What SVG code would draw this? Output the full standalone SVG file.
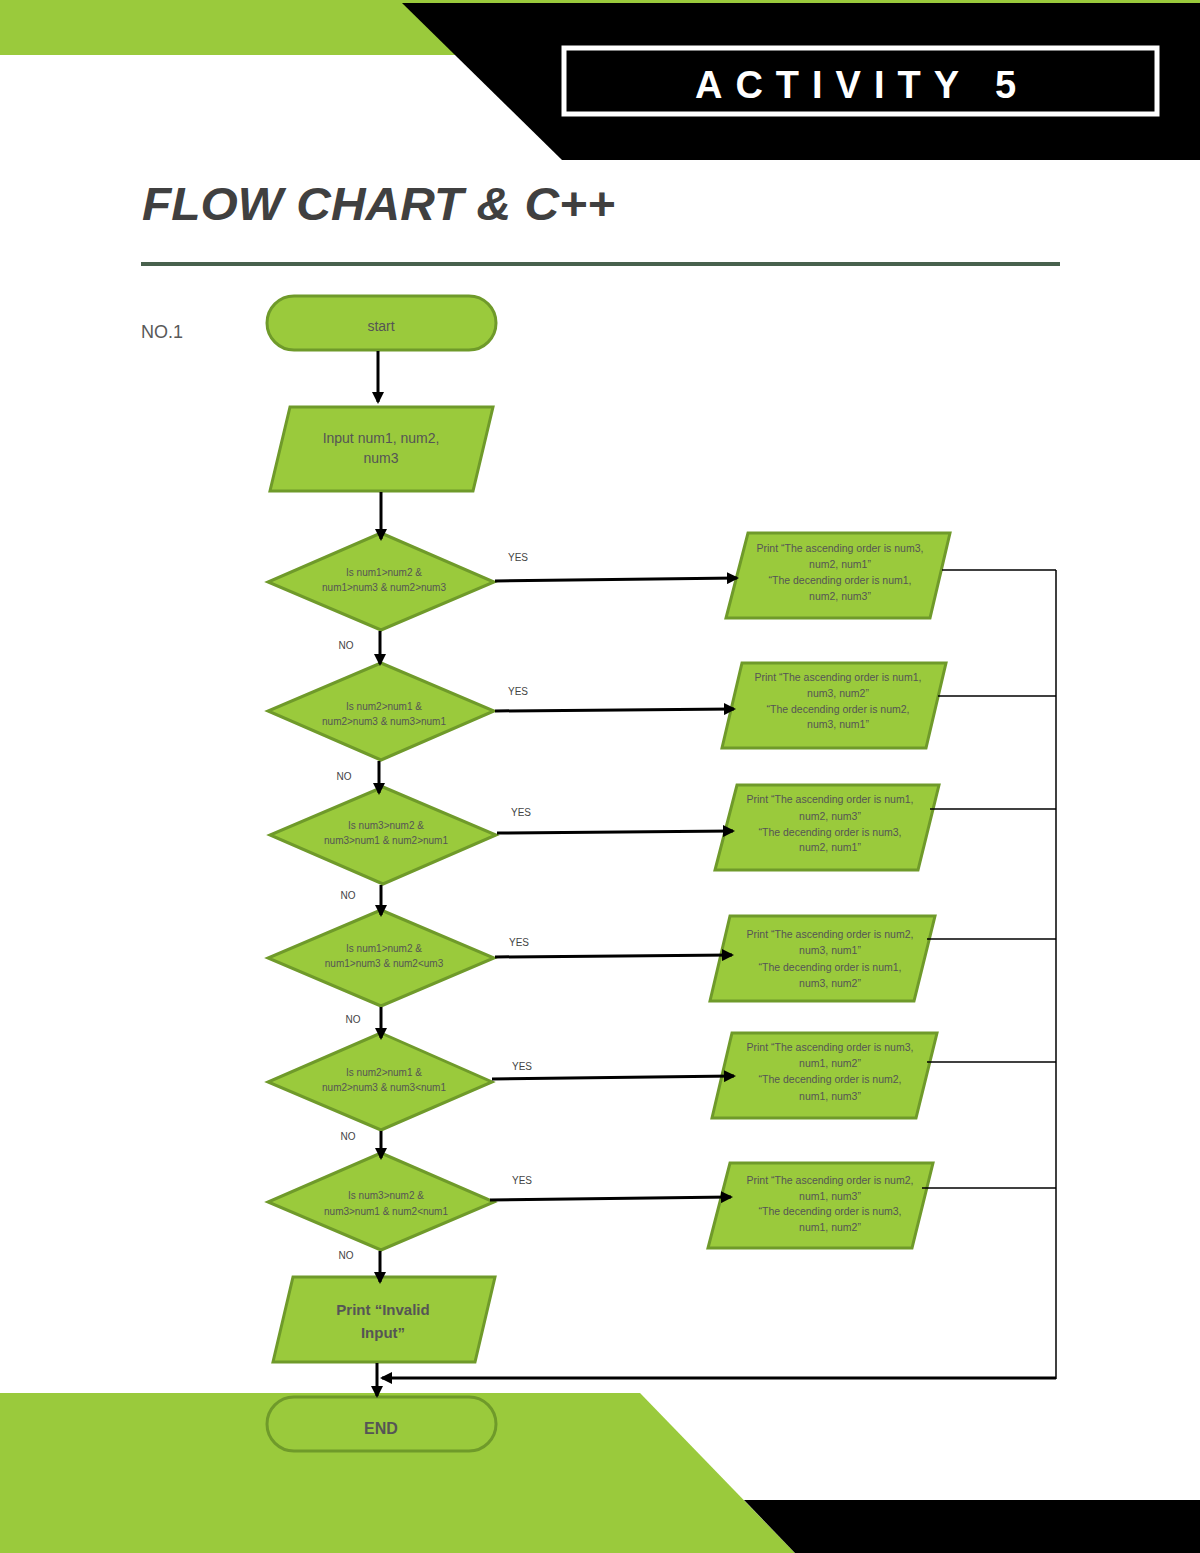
<svg xmlns="http://www.w3.org/2000/svg" width="1200" height="1553" viewBox="0 0 1200 1553">
<style>
.shape{fill:#9aca3c;stroke:#6f9a2a;stroke-width:3}
.t{font-family:"Liberation Sans",Arial,sans-serif;fill:#555555;text-anchor:middle}
.s{font-size:10.5px}
.d{font-size:10px}
.lbl{font-family:"Liberation Sans",Arial,sans-serif;font-size:10px;fill:#444444;text-anchor:middle}
.c{stroke:#000;stroke-width:3;fill:none}
.thin{stroke:#000;stroke-width:1.5;fill:none}
</style>
<defs>
<marker id="ah" markerWidth="12" markerHeight="12" refX="10" refY="6" orient="auto" markerUnits="userSpaceOnUse">
<path d="M0,0 L12,6 L0,12 Z" fill="#000"/>
</marker>
</defs>
<rect width="1200" height="1553" fill="#ffffff"/>
<g id="background">
<rect x="0" y="0" width="1200" height="55" fill="#9aca3c"/>
<polygon points="402,3 1200,3 1200,160 562,160" fill="#000"/>
<polygon points="0,1393 640,1393 795,1553 0,1553" fill="#9aca3c"/>
<polygon points="744,1500 1200,1500 1200,1553 795,1553" fill="#000"/>
<rect x="564" y="48" width="593" height="66" fill="#000" stroke="#fff" stroke-width="5"/>
<text x="862" y="98" font-family="Liberation Sans,Arial,sans-serif" font-size="38" font-weight="bold" fill="#fff" text-anchor="middle" letter-spacing="13">ACTIVITY 5</text>
<text x="142" y="220" font-family="Liberation Sans,Arial,sans-serif" font-size="47" font-weight="bold" font-style="italic" fill="#404040" textLength="473" lengthAdjust="spacingAndGlyphs">FLOW CHART &amp; C++</text>
<line x1="141" y1="264" x2="1060" y2="264" stroke="#48614d" stroke-width="4"/>
<text x="141" y="338" font-family="Liberation Sans,Arial,sans-serif" font-size="18" fill="#595959">NO.1</text>
</g>
<g id="start">
<rect class="shape" x="267" y="296" width="229" height="54" rx="27"/>
<text class="t" x="381" y="331" font-size="14">start</text>
</g>
<g id="input">
<polygon class="shape" points="290,407 493,407 473,491 270,491"/>
<text class="t" x="381" y="443" font-size="14">Input num1, num2,</text>
<text class="t" x="381" y="463" font-size="14">num3</text>
</g>
<g id="d1">
<polygon class="shape" points="381,533 494,582 381,630 268,582"/>
<text class="t d" x="384" y="576">Is num1&gt;num2 &amp;</text>
<text class="t d" x="384" y="591">num1&gt;num3 &amp; num2&gt;num3</text>
</g>
<g id="d2">
<polygon class="shape" points="381,663 494,711 381,760 268,711"/>
<text class="t d" x="384" y="710">Is num2&gt;num1 &amp;</text>
<text class="t d" x="384" y="725">num2&gt;num3 &amp; num3&gt;num1</text>
</g>
<g id="d3">
<polygon class="shape" points="383,787 496,835 383,884 270,835"/>
<text class="t d" x="386" y="829">Is num3&gt;num2 &amp;</text>
<text class="t d" x="386" y="844">num3&gt;num1 &amp; num2&gt;num1</text>
</g>
<g id="d4">
<polygon class="shape" points="381,910 494,958 381,1006 268,958"/>
<text class="t d" x="384" y="952">Is num1&gt;num2 &amp;</text>
<text class="t d" x="384" y="967">num1&gt;num3 &amp; num2&lt;um3</text>
</g>
<g id="d5">
<polygon class="shape" points="381,1033 492,1082 381,1130 268,1082"/>
<text class="t d" x="384" y="1076">Is num2&gt;num1 &amp;</text>
<text class="t d" x="384" y="1091">num2&gt;num3 &amp; num3&lt;num1</text>
</g>
<g id="d6">
<polygon class="shape" points="381,1153 494,1202 381,1250 268,1202"/>
<text class="t d" x="386" y="1199">Is num3&gt;num2 &amp;</text>
<text class="t d" x="386" y="1215">num3&gt;num1 &amp; num2&lt;num1</text>
</g>
<g id="p1">
<polygon class="shape" points="748,533 950,533 930,618 726,618"/>
<text class="t s" x="840" y="552">Print “The ascending order is num3,</text>
<text class="t s" x="840" y="568">num2, num1”</text>
<text class="t s" x="840" y="584">“The decending order is num1,</text>
<text class="t s" x="840" y="600">num2, num3”</text>
</g>
<g id="p2">
<polygon class="shape" points="742,663 946,663 926,748 722,748"/>
<text class="t s" x="838" y="681">Print “The ascending order is num1,</text>
<text class="t s" x="838" y="697">num3, num2”</text>
<text class="t s" x="838" y="713">“The decending order is num2,</text>
<text class="t s" x="838" y="728">num3, num1”</text>
</g>
<g id="p3">
<polygon class="shape" points="737,785 939,785 918,870 715,870"/>
<text class="t s" x="830" y="803">Print “The ascending order is num1,</text>
<text class="t s" x="830" y="820">num2, num3”</text>
<text class="t s" x="830" y="836">“The decending order is num3,</text>
<text class="t s" x="830" y="851">num2, num1”</text>
</g>
<g id="p4">
<polygon class="shape" points="730,916 935,916 914,1001 710,1001"/>
<text class="t s" x="830" y="938">Print “The ascending order is num2,</text>
<text class="t s" x="830" y="954">num3, num1”</text>
<text class="t s" x="830" y="971">“The decending order is num1,</text>
<text class="t s" x="830" y="987">num3, num2”</text>
</g>
<g id="p5">
<polygon class="shape" points="732,1033 937,1033 916,1118 712,1118"/>
<text class="t s" x="830" y="1051">Print “The ascending order is num3,</text>
<text class="t s" x="830" y="1067">num1, num2”</text>
<text class="t s" x="830" y="1083">“The decending order is num2,</text>
<text class="t s" x="830" y="1100">num1, num3”</text>
</g>
<g id="p6">
<polygon class="shape" points="730,1163 933,1163 912,1248 708,1248"/>
<text class="t s" x="830" y="1184">Print “The ascending order is num2,</text>
<text class="t s" x="830" y="1200">num1, num3”</text>
<text class="t s" x="830" y="1215">“The decending order is num3,</text>
<text class="t s" x="830" y="1231">num1, num2”</text>
</g>
<g id="invalid">
<polygon class="shape" points="293,1277 495,1277 475,1362 273,1362"/>
<text class="t" x="383" y="1315" font-size="15" font-weight="bold">Print “Invalid</text>
<text class="t" x="383" y="1338" font-size="15" font-weight="bold">Input”</text>
</g>
<g id="end">
<rect class="shape" x="267" y="1397" width="229" height="54" rx="27"/>
<text class="t" x="381" y="1434" font-size="16" font-weight="bold">END</text>
</g>
<g id="connectors">
<line class="c" x1="378" y1="351" x2="378" y2="402" marker-end="url(#ah)"/>
<line class="c" x1="381" y1="492" x2="381" y2="539" marker-end="url(#ah)"/>
<line class="c" x1="380" y1="631" x2="380" y2="664" marker-end="url(#ah)"/>
<line class="c" x1="379" y1="761" x2="379" y2="793" marker-end="url(#ah)"/>
<line class="c" x1="381" y1="885" x2="381" y2="915" marker-end="url(#ah)"/>
<line class="c" x1="381" y1="1007" x2="381" y2="1038" marker-end="url(#ah)"/>
<line class="c" x1="381" y1="1131" x2="381" y2="1158" marker-end="url(#ah)"/>
<line class="c" x1="380" y1="1251" x2="380" y2="1282" marker-end="url(#ah)"/>
<line class="c" x1="377" y1="1363" x2="377" y2="1396" marker-end="url(#ah)"/>
<line class="c" x1="495" y1="581" x2="737" y2="578" marker-end="url(#ah)"/>
<line class="c" x1="495" y1="711" x2="734" y2="709" marker-end="url(#ah)"/>
<line class="c" x1="497" y1="833" x2="733" y2="831" marker-end="url(#ah)"/>
<line class="c" x1="495" y1="957" x2="732" y2="955" marker-end="url(#ah)"/>
<line class="c" x1="492" y1="1079" x2="734" y2="1076" marker-end="url(#ah)"/>
<line class="c" x1="490" y1="1200" x2="731" y2="1197" marker-end="url(#ah)"/>
<line class="thin" x1="942" y1="570" x2="1056" y2="570"/>
<line class="thin" x1="938" y1="696" x2="1056" y2="696"/>
<line class="thin" x1="930" y1="809" x2="1056" y2="809"/>
<line class="thin" x1="927" y1="939" x2="1056" y2="939"/>
<line class="thin" x1="927" y1="1062" x2="1056" y2="1062"/>
<line class="thin" x1="922" y1="1188" x2="1056" y2="1188"/>
<line class="thin" x1="1056" y1="570" x2="1056" y2="1379"/>
<line class="c" x1="1056" y1="1378" x2="382" y2="1378" marker-end="url(#ah)"/>
<text class="lbl" x="518" y="561">YES</text>
<text class="lbl" x="518" y="695">YES</text>
<text class="lbl" x="521" y="816">YES</text>
<text class="lbl" x="519" y="946">YES</text>
<text class="lbl" x="522" y="1070">YES</text>
<text class="lbl" x="522" y="1184">YES</text>
<text class="lbl" x="346" y="649">NO</text>
<text class="lbl" x="344" y="780">NO</text>
<text class="lbl" x="348" y="899">NO</text>
<text class="lbl" x="353" y="1023">NO</text>
<text class="lbl" x="348" y="1140">NO</text>
<text class="lbl" x="346" y="1259">NO</text>
</g>
</svg>
